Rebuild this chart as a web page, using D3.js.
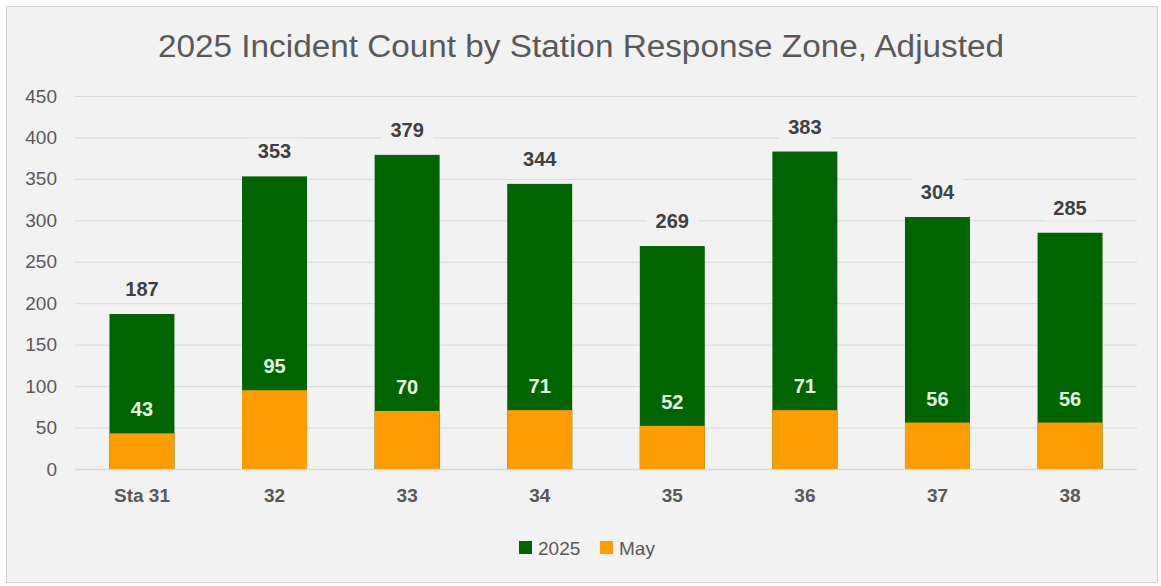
<!DOCTYPE html>
<html>
<head>
<meta charset="utf-8">
<script src="https://cdn.jsdelivr.net/npm/d3@7"></script>
<style>
  body { margin: 0; background: #ffffff; }
  svg { display: block; }
</style>
</head>
<body>
<div id="chart"></div>
<script>
const FRAME_WIDTH = 1161;
const FRAME_HEIGHT = 586;
const MARGINS = {left: 75, right: 24, top: 96, bottom: 117};

const stations = ["Sta 31", "32", "33", "34", "35", "36", "37", "38"];
const total2025 = [187, 353, 379, 344, 269, 383, 304, 285];
const may = [43, 95, 70, 71, 52, 71, 56, 56];
const yTicks = [0, 50, 100, 150, 200, 250, 300, 350, 400, 450];

const GREEN = "#006400";
const ORANGE = "#ff9c00";
const FONT = "'Liberation Sans', Arial, sans-serif";

const svg = d3.select("#chart")
  .append("svg")
    .attr("width", FRAME_WIDTH)
    .attr("height", FRAME_HEIGHT);

// chart panel
svg.append("rect")
  .attr("x", 6.5).attr("y", 6.5)
  .attr("width", FRAME_WIDTH - 10).attr("height", FRAME_HEIGHT - 10)
  .attr("fill", "#f2f2f2")
  .attr("stroke", "#d0d0d0");

const x = d3.scaleBand()
  .domain(stations)
  .range([MARGINS.left, FRAME_WIDTH - MARGINS.right])
  .paddingInner(0.51)
  .paddingOuter(0.26);

const y = d3.scaleLinear()
  .domain([0, 450])
  .range([FRAME_HEIGHT - MARGINS.bottom, MARGINS.top]);

// title
svg.append("text")
  .attr("x", 581).attr("y", 57)
  .attr("text-anchor", "middle")
  .attr("font-family", FONT)
  .attr("font-size", 31)
  .attr("textLength", 846)
  .attr("lengthAdjust", "spacingAndGlyphs")
  .attr("fill", "#595959")
  .text("2025 Incident Count by Station Response Zone, Adjusted");

// gridlines
svg.append("g")
  .selectAll("line")
  .data(yTicks)
  .enter()
  .append("line")
    .attr("x1", MARGINS.left)
    .attr("x2", FRAME_WIDTH - MARGINS.right)
    .attr("y1", d => y(d) + 0.5)
    .attr("y2", d => y(d) + 0.5)
    .attr("stroke", "#d9d9d9")
    .attr("stroke-width", d => d === 0 ? 1.5 : 1);

// y axis labels
const yAxis = d3.axisLeft(y).tickValues(yTicks).tickSize(0).tickPadding(18);
svg.append("g")
  .attr("transform", `translate(${MARGINS.left},0)`)
  .call(yAxis)
  .call(g => g.select(".domain").remove())
  .call(g => g.selectAll("text")
    .attr("font-family", FONT)
    .attr("font-size", 19)
    .attr("fill", "#595959"));

// x axis labels
const xAxis = d3.axisBottom(x).tickSize(0).tickPadding(20);
svg.append("g")
  .attr("transform", `translate(0,${y(0)})`)
  .call(xAxis)
  .call(g => g.select(".domain").remove())
  .call(g => g.selectAll("text")
    .attr("font-family", FONT)
    .attr("font-size", 19)
    .attr("font-weight", "bold")
    .attr("fill", "#595959"));

const rows = stations.map((s, i) => ({station: s, total: total2025[i], may: may[i]}));

// 2025 bars
svg.append("g")
  .selectAll("rect")
  .data(rows)
  .enter()
  .append("rect")
    .attr("x", d => x(d.station))
    .attr("width", x.bandwidth())
    .attr("y", d => y(d.total))
    .attr("height", d => y(0) - y(d.total))
    .attr("fill", GREEN);

// May bars (overlapping)
svg.append("g")
  .selectAll("rect")
  .data(rows)
  .enter()
  .append("rect")
    .attr("x", d => x(d.station))
    .attr("width", x.bandwidth())
    .attr("y", d => y(d.may))
    .attr("height", d => y(0) - y(d.may))
    .attr("fill", ORANGE);

// total labels with background knock-out
const totLabels = svg.append("g")
  .selectAll("g")
  .data(rows)
  .enter()
  .append("g")
    .attr("transform", d => `translate(${x(d.station) + x.bandwidth() / 2},${y(d.total) - 25})`);

totLabels.append("rect")
  .attr("x", -26).attr("y", -13)
  .attr("width", 52).attr("height", 26)
  .attr("fill", "#f2f2f2");

totLabels.append("text")
  .attr("text-anchor", "middle")
  .attr("dy", "0.35em")
  .attr("font-family", FONT)
  .attr("font-size", 20)
  .attr("font-weight", "bold")
  .attr("fill", "#404040")
  .text(d => d.total);

// May labels
svg.append("g")
  .selectAll("text")
  .data(rows)
  .enter()
  .append("text")
    .attr("x", d => x(d.station) + x.bandwidth() / 2)
    .attr("y", d => y(d.may) - 24)
    .attr("dy", "0.35em")
    .attr("text-anchor", "middle")
    .attr("font-family", FONT)
    .attr("font-size", 20)
    .attr("font-weight", "bold")
    .attr("fill", "#e8f5e0")
    .text(d => d.may);

// legend
const legendItems = [
  {name: "2025", color: GREEN, x: 519},
  {name: "May", color: ORANGE, x: 600}
];
const legend = svg.append("g")
  .selectAll("g")
  .data(legendItems)
  .enter()
  .append("g")
    .attr("transform", d => `translate(${d.x},548)`);

legend.append("rect")
  .attr("x", 0).attr("y", -7)
  .attr("width", 13).attr("height", 13)
  .attr("fill", d => d.color);

legend.append("text")
  .attr("x", 19)
  .attr("dy", "0.35em")
  .attr("font-family", FONT)
  .attr("font-size", 19)
  .attr("fill", "#595959")
  .text(d => d.name);
</script>
</body>
</html>
